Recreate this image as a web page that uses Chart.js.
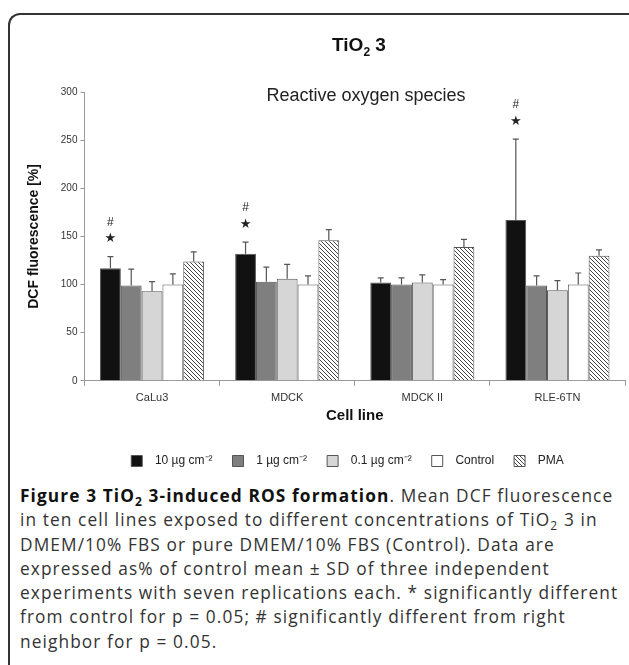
<!DOCTYPE html>
<html>
<head>
<meta charset="utf-8">
<script src="https://cdn.jsdelivr.net/npm/chart.js@4.4.1/dist/chart.umd.min.js"></script>
<style>
  html, body { margin: 0; padding: 0; background: #fff; overflow: hidden; }
  #frame {
    position: absolute; left: 8px; top: 13px; width: 660px; height: 700px;
    border-left: 2px solid #333; border-top: 2px solid #333;
    border-top-left-radius: 12px;
  }
  #chartBox { position: absolute; left: 0; top: 0; width: 629px; height: 477px; }
  #caption {
    position: absolute; left: 20px; top: 484px; width: 609px; white-space: nowrap;
    font-family: "Open Sans", sans-serif; font-size: 17.3px; line-height: 24.3px;
    letter-spacing: 1.1px; color: #333;
  }
  #caption b { font-weight: 700; color: #111; }
  #caption sub { font-size: 12px; line-height: 0; vertical-align: -0.3em; }
</style>
</head>
<body>
<div id="frame"></div>
<div id="chartBox"><canvas id="rosChart"></canvas></div>
<div id="caption">
  <b>Figure 3 TiO<sub>2</sub> 3-induced ROS formation</b>. Mean DCF fluorescence<br>
  in ten cell lines exposed to different concentrations of TiO<sub>2</sub> 3 in<br>
  DMEM/10% FBS or pure DMEM/10% FBS (Control). Data are<br>
  expressed as% of control mean ± SD of three independent<br>
  experiments with seven replications each. * significantly different<br>
  from control for p = 0.05; # significantly different from right<br>
  neighbor for p = 0.05.
</div>
<script>
// Daten
const cellLines = ['CaLu3', 'MDCK', 'MDCK II', 'RLE-6TN'];
const seriesNames = ['10 µg cm⁻²', '1 µg cm⁻²', '0.1 µg cm⁻²', 'Control', 'PMA'];
const dose10 = [117, 132, 102, 167];
const dose1 = [99, 103, 100, 99];
const dose01 = [93, 106, 102, 94];
const control = [100, 100, 100, 100];
const pma = [124, 146, 139, 130];
// obere Fehlerbalken (Mittelwert + SD)
const dose10Err = [129, 144, 107, 251];
const dose1Err = [116, 118, 107, 109];
const dose01Err = [103, 121, 110, 104];
const controlErr = [111, 109, 105, 112];
const pmaErr = [134, 157, 147, 136];
// Signifikanzmarker über dem 10 µg Balken
const marks = ['#*', '#*', '', '#*'];
const yTicks = [0, 50, 100, 150, 200, 250, 300];

// Schraffur für PMA
function hatchPattern() {
    const c = document.createElement('canvas');
    c.width = 4; c.height = 4;
    const g = c.getContext('2d');
    g.fillStyle = '#ffffff';
    g.fillRect(0, 0, 4, 4);
    g.strokeStyle = '#444';
    g.lineWidth = 1;
    g.beginPath();
    g.moveTo(-1, -1); g.lineTo(5, 5);
    g.moveTo(-1, 3); g.lineTo(1, 5);
    g.moveTo(3, -1); g.lineTo(5, 1);
    g.stroke();
    return g.createPattern(c, 'repeat');
}

const fills = ['#111111', '#7f7f7f', '#d6d6d6', '#ffffff', hatchPattern()];
const values = [dose10, dose1, dose01, control, pma];
const errors = [dose10Err, dose1Err, dose01Err, controlErr, pmaErr];

// Fehlerbalken, Titel und Marker zeichnen
const extrasPlugin = {
    id: 'extras',
    afterLayout(chart) {
        // Legende etwas nach rechts wie im Original
        chart.legend.left += 22;
        chart.legend.right += 22;
    },
    afterDatasetsDraw(chart) {
        const ctx = chart.ctx;
        const y = chart.scales.y;
        ctx.save();
        ctx.strokeStyle = '#555';
        ctx.lineWidth = 1.2;
        chart.data.datasets.forEach((ds, i) => {
            const meta = chart.getDatasetMeta(i);
            meta.data.forEach((bar, j) => {
                const top = y.getPixelForValue(errors[i][j]);
                ctx.beginPath();
                ctx.moveTo(bar.x, bar.y);
                ctx.lineTo(bar.x, top);
                ctx.moveTo(bar.x - 3, top);
                ctx.lineTo(bar.x + 3, top);
                ctx.stroke();
            });
        });
        // Marker
        const meta0 = chart.getDatasetMeta(0);
        ctx.fillStyle = '#222';
        ctx.textAlign = 'center';
        ctx.textBaseline = 'middle';
        marks.forEach((m, j) => {
            if (!m) return;
            const bar = meta0.data[j];
            const top = y.getPixelForValue(dose10Err[j]);
            ctx.font = '12px "Liberation Sans", Arial, sans-serif';
            ctx.fillText('#', bar.x, top - 34);
            ctx.font = '13px "DejaVu Sans", sans-serif';
            ctx.fillText('★', bar.x, top - 18);
        });
        ctx.restore();
    },
    afterDraw(chart) {
        const ctx = chart.ctx;
        ctx.save();
        ctx.fillStyle = '#111';
        ctx.textBaseline = 'middle';
        // Haupttitel mit tiefgestellter 2
        const big = 'bold 19px "Liberation Sans", Arial, sans-serif';
        const small = 'bold 12px "Liberation Sans", Arial, sans-serif';
        ctx.font = big;
        const w1 = ctx.measureText('TiO').width;
        const w3 = ctx.measureText(' 3').width;
        ctx.font = small;
        const w2 = ctx.measureText('2').width;
        let x = 359 - (w1 + w2 + w3) / 2;
        ctx.font = big;
        ctx.fillText('TiO', x, 46);
        x += w1;
        ctx.font = small;
        ctx.fillText('2', x, 53);
        x += w2;
        ctx.font = big;
        ctx.fillText(' 3', x, 46);
        // Untertitel im Diagramm
        ctx.font = '18px "Liberation Sans", Arial, sans-serif';
        ctx.textAlign = 'center';
        ctx.fillStyle = '#222';
        ctx.fillText('Reactive oxygen species', 366, 96);
        ctx.restore();
    }
};

const chartData = {
    labels: cellLines,
    datasets: seriesNames.map((name, i) => ({
        label: '  ' + name,
        data: values[i],
        backgroundColor: fills[i],
        borderColor: '#555',
        borderWidth: 1,
        categoryPercentage: 0.77,
        barPercentage: 1.0
    }))
};

new Chart(document.getElementById('rosChart'), {
    type: 'bar',
    data: chartData,
    plugins: [extrasPlugin],
    options: {
        responsive: true,
        maintainAspectRatio: false,
        animation: false,
        layout: { padding: { top: 92, left: 26, right: 4, bottom: 0 } },
        scales: {
            x: {
                grid: { display: true, drawOnChartArea: false, offset: true, tickLength: 5, color: '#999' },
                border: { display: true, color: '#999' },
                ticks: { color: '#333', font: { size: 11, family: '"Liberation Sans", Arial' }, padding: 6 },
                title: {
                    display: true, text: 'Cell line', color: '#111',
                    font: { size: 15, weight: 'bold', family: '"Liberation Sans", Arial' },
                    padding: { top: -4, bottom: 10 }
                }
            },
            y: {
                min: 0, max: 300,
                afterBuildTicks(scale) { scale.ticks = yTicks.map(v => ({ value: v })); },
                grid: { display: true, drawOnChartArea: false, tickLength: 4, color: '#999' },
                border: { display: true, color: '#999' },
                ticks: { color: '#333', font: { size: 10, family: '"Liberation Sans", Arial' }, padding: 3 },
                title: {
                    display: true, text: 'DCF fluorescence [%]', color: '#111',
                    font: { size: 14, weight: 'bold', family: '"Liberation Sans", Arial' },
                    padding: { top: 0, bottom: 15 }
                }
            }
        },
        plugins: {
            title: { display: false },
            tooltip: { enabled: false },
            legend: {
                position: 'bottom',
                labels: {
                    boxWidth: 11, boxHeight: 11, padding: 20,
                    color: '#222',
                    font: { size: 12, family: '"Liberation Sans", Arial' }
                }
            }
        }
    }
});
</script>
</body>
</html>
